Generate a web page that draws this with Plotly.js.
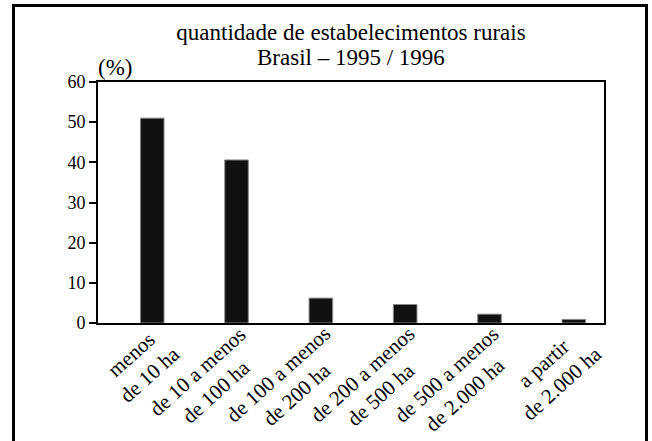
<!DOCTYPE html>
<html>
<head>
<meta charset="utf-8">
<script src="https://cdn.plot.ly/plotly-3.0.1.min.js"></script>
<style>
  html, body { margin: 0; padding: 0; background: #fff; }
  #chart { width: 652px; height: 441px; }
  .modebar-container { display: none !important; }
</style>
</head>
<body>
<div id="chart"></div>
<script>
// ---- data ----
const categories = [
  'menos<br>de 10 ha',
  'de 10 a menos<br>de 100 ha',
  'de 100 a menos<br>de 200 ha',
  'de 200 a menos<br>de 500 ha',
  'de 500 a menos<br>de 2.000 ha',
  'a partir<br>de 2.000 ha'
];
const values = [51.0, 40.6, 6.2, 4.6, 2.2, 0.9];
const yTicks = [0, 10, 20, 30, 40, 50, 60];
const titleLine1 = 'quantidade de estabelecimentos rurais';
const titleLine2 = 'Brasil – 1995 / 1996';
const unitLabel = '(%)';

// ---- layout geometry ----
const W = 652, H = 441;
const M = { l: 98, r: 48, t: 82, b: 118 };
const PW = W - M.l - M.r, PH = H - M.t - M.b;
const px2x = p => (p - M.l) / PW;          // pixel -> paper x
const px2y = p => (H - M.b - p) / PH;      // pixel -> paper y

const FONT = 'Liberation Serif';
const xIdx = categories.map((_, i) => i);

const trace = {
  type: 'bar',
  x: xIdx,
  y: values,
  width: 0.28,
  marker: { color: '#111111', line: { color: '#8a8a8a', width: 1 } },
  hoverinfo: 'skip'
};

const labelAnnotations = categories.map((c, i) => ({
  text: c,
  x: i, xref: 'x',
  y: 0, yref: 'paper',
  xanchor: 'right', yanchor: 'top',
  xshift: 35, yshift: 4,
  textangle: -42,
  align: 'center',
  showarrow: false,
  font: { family: FONT, size: 21 }
}));

const layout = {
  width: W, height: H,
  margin: M,
  font: { family: FONT, color: '#000' },
  showlegend: false,
  hovermode: false,
  title: {
    text: titleLine1,
    font: { family: FONT, size: 23 },
    xref: 'paper', x: 0.5, xanchor: 'center',
    yref: 'container', y: 1 - 24 / H, yanchor: 'top',
    pad: { t: 0, b: 0, l: 0, r: 0 }
  },
  xaxis: {
    range: [-0.643, 5.358],
    showticklabels: false,
    ticks: '',
    showgrid: false,
    zeroline: false,
    showline: true,
    linecolor: '#000',
    linewidth: 1.5,
    mirror: true
  },
  yaxis: {
    range: [0, 60],
    tickvals: yTicks,
    ticks: 'outside',
    ticklen: 7,
    tickwidth: 2,
    tickcolor: '#000',
    showgrid: false,
    zeroline: false,
    showline: true,
    linecolor: '#000',
    linewidth: 2,
    mirror: true,
    tickfont: { family: FONT, size: 18 }
  },
  annotations: [
    {
      text: titleLine2,
      xref: 'paper', x: 0.5, xanchor: 'center',
      yref: 'paper', y: px2y(72), yanchor: 'bottom',
      showarrow: false,
      font: { family: FONT, size: 23 }
    },
    {
      text: unitLabel,
      xref: 'paper', x: px2x(114.5), xanchor: 'center',
      yref: 'paper', y: px2y(82), yanchor: 'bottom',
      showarrow: false,
      font: { family: FONT, size: 23 }
    }
  ].concat(labelAnnotations),
  shapes: [
    {
      type: 'rect', xref: 'paper', yref: 'paper',
      x0: px2x(13.5), x1: px2x(646.5),
      y0: px2y(460), y1: px2y(5.5),
      line: { color: '#000', width: 3 },
      fillcolor: 'rgba(0,0,0,0)'
    }
  ]
};

function draw() { Plotly.newPlot('chart', [trace], layout); }
if (document.fonts && document.fonts.load) {
  document.fonts.load('20px "Liberation Serif"').then(draw, draw);
} else {
  draw();
}
</script>
</body>
</html>
